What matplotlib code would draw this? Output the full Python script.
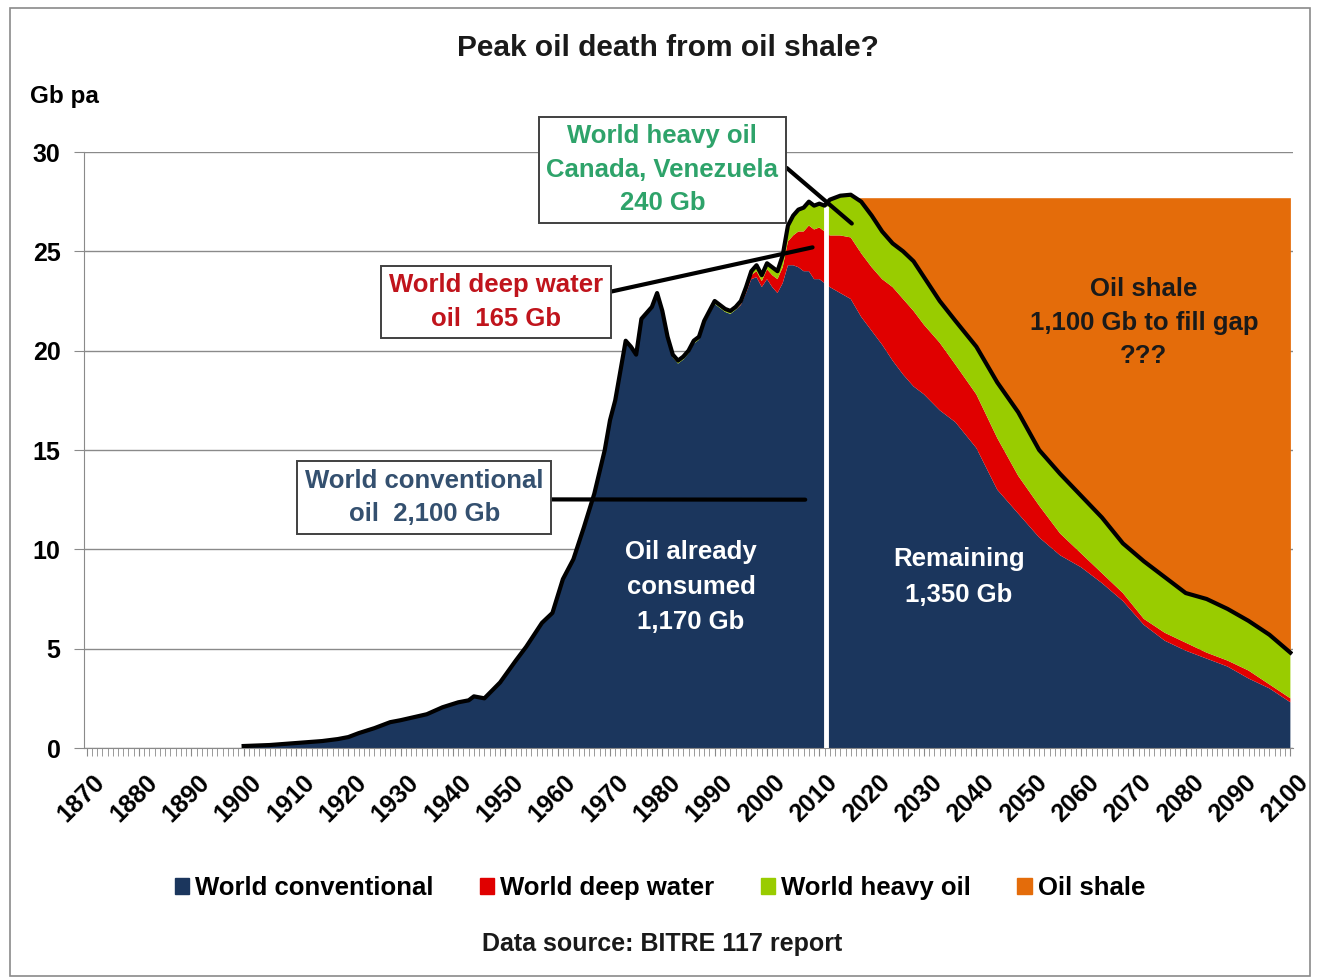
import numpy as np
import matplotlib.pyplot as plt
import matplotlib.transforms as mtransforms
from matplotlib.patches import Patch, Rectangle

plt.rcParams['font.family'] = ['Liberation Sans', 'DejaVu Sans']
plt.rcParams['font.weight'] = 'bold'

# years (irregular spacing where the curve is smooth)
years = [1900, 1905, 1910, 1915, 1918, 1920, 1922, 1925, 1928, 1930, 1935, 1938,
         1941, 1943, 1944, 1946, 1949, 1952, 1954, 1957, 1959, 1961, 1963, 1965,
         1967, 1969, 1970, 1971, 1972, 1973, 1974, 1975, 1976, 1977, 1978, 1979,
         1980, 1981, 1982, 1983, 1984, 1985, 1986, 1987, 1988, 1989, 1990, 1991,
         1992, 1993, 1994, 1995, 1996, 1997, 1998, 1999, 2000, 2001, 2002, 2003,
         2004, 2005, 2006, 2007, 2008, 2009, 2010, 2011, 2012, 2014, 2016, 2018,
         2020, 2022, 2024, 2026, 2028, 2030, 2033, 2036, 2040, 2044, 2048, 2052,
         2056, 2060, 2064, 2068, 2072, 2076, 2080, 2084, 2088, 2092, 2096, 2100]

# Gb per year
conventional = [0.1, 0.15, 0.25, 0.35, 0.45, 0.55, 0.75, 1.0, 1.3, 1.4, 1.7, 2.05,
                2.3, 2.4, 2.6, 2.5, 3.3, 4.4, 5.1, 6.3, 6.8, 8.5, 9.5, 11.1,
                12.8, 15.0, 16.5, 17.5, 19.0, 20.5, 20.2, 19.8, 21.6, 21.9, 22.2, 22.9,
                21.85, 20.55, 19.65, 19.35, 19.55, 19.85, 20.35, 20.55, 21.35, 21.85, 22.35, 22.15,
                21.95, 21.85, 22.05, 22.3, 22.9, 23.6, 23.7, 23.2, 23.6, 23.2, 22.9, 23.4,
                24.3, 24.3, 24.2, 24.0, 24.0, 23.6, 23.6, 23.4, 23.2, 22.9, 22.6, 21.7,
                21.0, 20.3, 19.5, 18.8, 18.2, 17.8, 17.0, 16.4, 15.1, 13.0, 11.8, 10.6,
                9.7, 9.1, 8.3, 7.4, 6.2, 5.4, 4.9, 4.5, 4.1, 3.5, 3.0, 2.3]

deep_water = [0] * 51 + \
             [0.05, 0.1, 0.2, 0.3, 0.3, 0.5, 0.6, 0.7, 0.8,
              1.2, 1.5, 1.8, 2.0, 2.3, 2.5, 2.6, 2.6, 2.6, 2.9, 3.1, 3.2,
              3.2, 3.3, 3.7, 3.8, 3.8, 3.5, 3.4, 2.9, 2.7, 2.6, 1.9, 1.6,
              1.1, 0.7, 0.5, 0.4, 0.3, 0.4, 0.4, 0.3, 0.3, 0.4, 0.2, 0.2]

heavy_oil = [0] * 36 + \
            [0.15] * 15 + \
            [0.15, 0.2, 0.2, 0.3, 0.3, 0.3, 0.4, 0.4, 0.6,
             0.8, 1.0, 1.1, 1.2, 1.2, 1.2, 1.2, 1.3, 1.8, 2.0, 2.15, 2.6,
             2.6, 2.4, 2.2, 2.4, 2.5, 2.4, 2.1, 2.2, 2.4, 2.8, 3.2, 2.8,
             3.0, 2.9, 2.8, 2.5, 2.9, 2.8, 2.5, 2.7, 2.6, 2.5, 2.5, 2.3]

shale_cap = 27.7        # level the oil shale is meant to hold
shale_start = 2014
split_year = 2011.3     # white line: consumed / remaining

series_names = ['World conventional', 'World deep water', 'World heavy oil', 'Oil shale']
colors = ['#1B365D', '#E00000', '#99CC00', '#E46C0A']

fig = plt.figure(figsize=(13.2, 9.8), dpi=100)
ax = fig.add_axes([84 / 1320, 1 - 748 / 980, (1293 - 84) / 1320, (748 - 152) / 980])

yrs = np.array(years)
total = np.array(conventional) + np.array(deep_water) + np.array(heavy_oil)

ax.stackplot(yrs, conventional, deep_water, heavy_oil, colors=colors[:3], zorder=2)
ax.fill_between(yrs, total, shale_cap, where=(yrs >= shale_start) & (total <= shale_cap),
                interpolate=True, color=colors[3], lw=0, zorder=2)
ax.vlines(split_year, 0, 27.3, color='white', lw=3.5, zorder=3)
ax.plot(yrs, total, color='black', lw=3, zorder=4, solid_joinstyle='round')

# axes styling
ax.set_xlim(1869.5, 2100.5)
ax.set_ylim(0, 30)
ax.set_yticks(range(0, 31, 5))
ax.set_xticks(range(1870, 2101, 10))
ax.set_xticks(range(1870, 2101), minor=True)
ax.grid(axis='y', color='#8a8a8a', lw=1, zorder=0)
ax.set_axisbelow(True)
for s in ['top', 'right']:
    ax.spines[s].set_visible(False)
for s in ['left', 'bottom']:
    ax.spines[s].set_color('#8a8a8a')
ax.tick_params(axis='y', length=7, color='#8a8a8a', pad=10, labelsize=18)
ax.tick_params(axis='x', which='both', length=6, color='#8a8a8a', pad=10, labelsize=18)
ax.set_xticklabels([str(y) for y in range(1870, 2101, 10)], rotation=45,
                   ha='right', va='top', rotation_mode='anchor')
shift = mtransforms.ScaledTranslation(0.06, 0, fig.dpi_scale_trans)
for lab in ax.get_xticklabels():
    lab.set_transform(lab.get_transform() + shift)
for lab in ax.get_yticklabels() + ax.get_xticklabels():
    lab.set_fontweight('bold')

# title and labels
fig.text(668 / 1320, 1 - 48 / 980, 'Peak oil death from oil shale?', ha='center', va='center',
         fontsize=21.5, fontweight='bold', color='#1a1a1a')
fig.text(30 / 1320, 1 - 97 / 980, 'Gb pa', ha='left', va='center', fontsize=17.5, fontweight='bold')

# annotation boxes
box = dict(boxstyle='square,pad=0.3', fc='white', ec='#404040', lw=1.4)
ann_size = 18.5
ax.annotate('World heavy oil\nCanada, Venezuela\n240 Gb', xy=(2016.2, 26.4), xytext=(1980, 29.1),
            ha='center', va='center', fontsize=ann_size, fontweight='bold', color='#2EA36A',
            linespacing=1.5, bbox=box, zorder=6,
            arrowprops=dict(arrowstyle='-', color='black', lw=3, shrinkA=0, shrinkB=0,
                            relpos=(1, 0.6)))
ax.annotate('World deep water\noil  165 Gb', xy=(2008.7, 25.2), xytext=(1948.2, 22.45),
            ha='center', va='center', fontsize=ann_size, fontweight='bold', color='#C0141C',
            linespacing=1.5, bbox=box, zorder=6,
            arrowprops=dict(arrowstyle='-', color='black', lw=3, shrinkA=0, shrinkB=0,
                            relpos=(1, 0.65)))
ax.annotate('World conventional\noil  2,100 Gb', xy=(2007.3, 12.5), xytext=(1934.5, 12.6),
            ha='center', va='center', fontsize=ann_size, fontweight='bold', color='#34506F',
            linespacing=1.5, bbox=box, zorder=6,
            arrowprops=dict(arrowstyle='-', color='black', lw=3, shrinkA=0, shrinkB=0,
                            relpos=(1, 0.47)))

ax.text(1985.5, 8.1, 'Oil already\nconsumed\n1,170 Gb', ha='center', va='center', fontsize=ann_size,
        fontweight='bold', color='white', linespacing=1.6, zorder=5)
ax.text(2036.7, 8.6, 'Remaining\n1,350 Gb', ha='center', va='center', fontsize=ann_size,
        fontweight='bold', color='white', linespacing=1.6, zorder=5)
ax.text(2072, 21.4, 'Oil shale\n1,100 Gb to fill gap\n???', ha='center', va='center', fontsize=ann_size,
        fontweight='bold', color='#1a1a1a', linespacing=1.5, zorder=5)

# legend and source
handles = [Patch(color=c) for c in colors]
fig.legend(handles, series_names, loc='center', bbox_to_anchor=(0.5, 1 - 888 / 980), ncol=4,
           frameon=False, prop={'size': 18.5, 'weight': 'bold'}, handlelength=0.55,
           handleheight=0.55, handletextpad=0.25, columnspacing=1.8)
fig.text(662 / 1320, 1 - 944 / 980, 'Data source: BITRE 117 report', ha='center', va='center',
         fontsize=18, fontweight='bold', color='#1a1a1a')

# outer frame of the chart
fig.patches.append(Rectangle((10 / 1320, 4 / 980), 1300 / 1320, 968 / 980, transform=fig.transFigure,
                             fill=False, ec='#8a8a8a', lw=1.2))

fig.savefig('out.png', dpi=100)
